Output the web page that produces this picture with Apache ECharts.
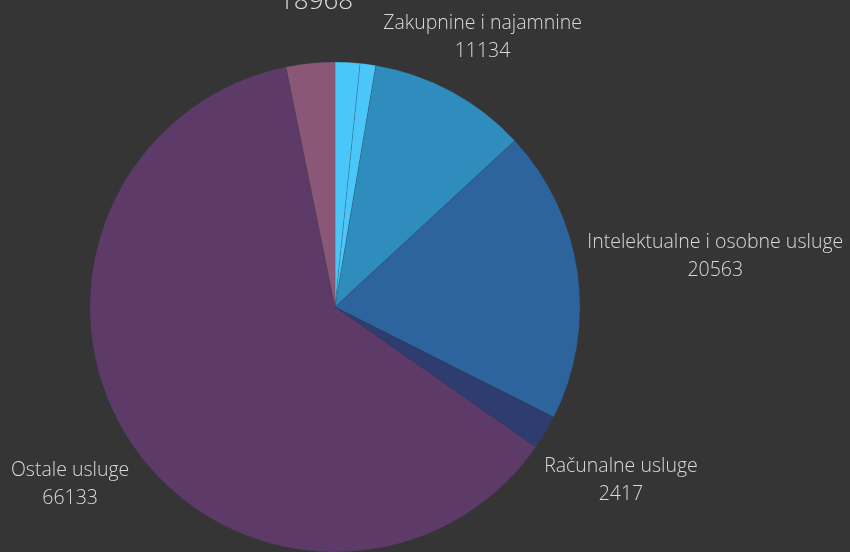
<!DOCTYPE html>
<html>
<head>
<meta charset="utf-8">
<script src="https://cdn.jsdelivr.net/npm/echarts@6/dist/echarts.min.js"></script>
<style>
  html, body { margin: 0; padding: 0; background: #353535; }
  #main { width: 850px; height: 552px; }
</style>
</head>
<body>
<div id="main"></div>
<script>
// podaci
var names = ['', '', 'Zakupnine i najamnine', 'Intelektualne i osobne usluge', 'Računalne usluge', 'Ostale usluge', ''];
var values = [1745, 1095, 11134, 20563, 2417, 66133, 3413];
var colors = ['#4bc6f8', '#4bc6f8', '#2e8dbc', '#2e649e', '#2f3c70', '#5e3a68', '#8b5777'];
var titleText = '18968';

var pieCenter = [335, 307];
// udaljenost središta natpisa od središta kruga
var labelRadius = [0, 0, 310, 384, 333, 317, 0];

var myChart = echarts.init(document.getElementById('main'));

var seriesData = values.map(function (v, i) {
  return {
    name: names[i],
    value: v,
    itemStyle: { color: colors[i] },
    label: { show: names[i] !== '' }
  };
});

var option = {
  backgroundColor: '#353535',
  animation: false,
  title: {
    text: titleText,
    left: 274,
    top: -16,
    textStyle: {
      color: '#dcdcdc',
      fontSize: 26,
      fontWeight: 300,
      fontFamily: 'Open Sans'
    }
  },
  series: [{
    type: 'pie',
    center: pieCenter,
    radius: 245,
    startAngle: 90,
    clockwise: true,
    avoidLabelOverlap: false,
    itemStyle: {
      borderColor: 'rgba(40,60,80,0.4)',
      borderWidth: 0.5
    },
    label: {
      position: 'outside',
      formatter: '{b}\n{c}',
      color: '#dadada',
      fontSize: 19.5,
      fontWeight: 300,
      fontFamily: 'Open Sans',
      lineHeight: 28
    },
    labelLine: { show: false, length: 10, length2: 0 },
    labelLayout: function (params) {
      var pts = params.labelLinePoints;
      if (!pts) return {};
      var dx = pts[1][0] - pts[0][0];
      var dy = pts[1][1] - pts[0][1];
      var len = Math.sqrt(dx * dx + dy * dy) || 1;
      var r = labelRadius[params.dataIndex];
      return {
        x: pieCenter[0] + dx / len * r,
        y: pieCenter[1] + dy / len * r + 3,
        align: 'center',
        verticalAlign: 'middle'
      };
    },
    emphasis: { disabled: true },
    data: seriesData
  }]
};

myChart.setOption(option);
</script>
</body>
</html>
